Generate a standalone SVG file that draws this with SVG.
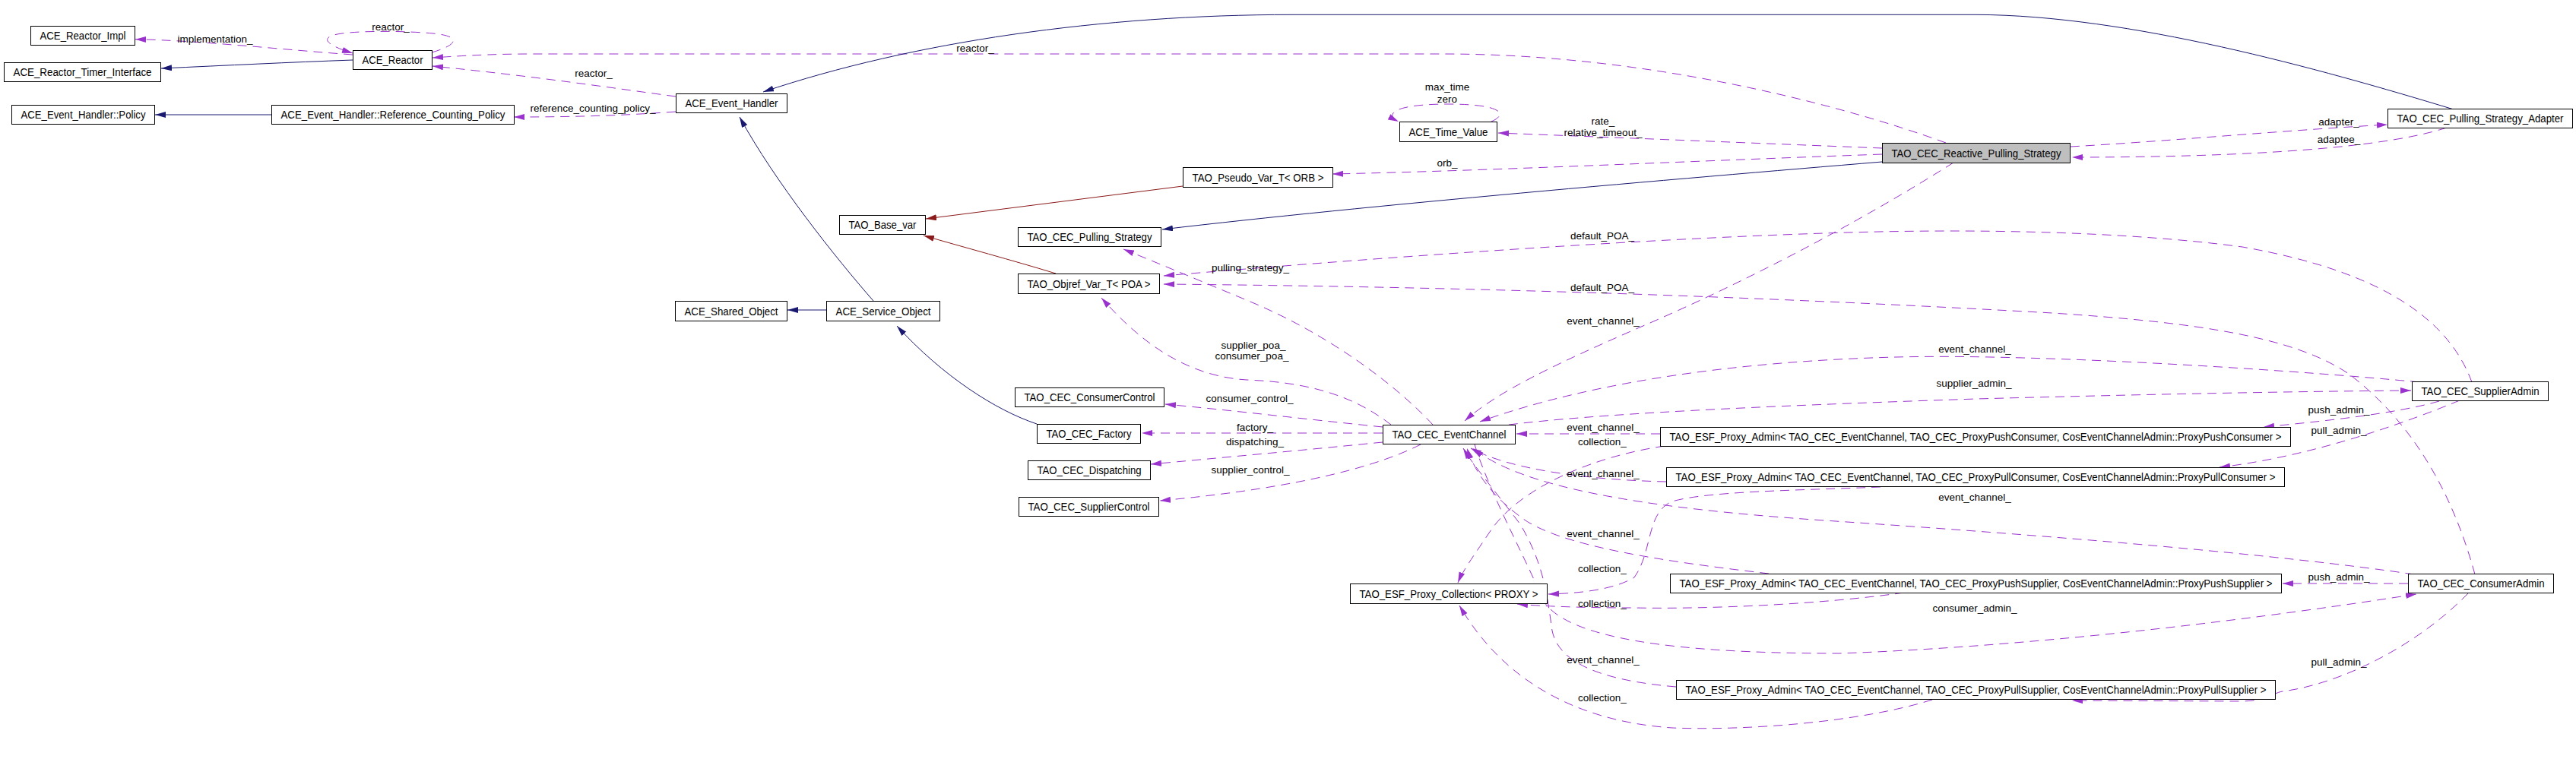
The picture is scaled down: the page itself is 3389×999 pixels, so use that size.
<svg xmlns="http://www.w3.org/2000/svg" width="3389" height="999" viewBox="0 0 3389 999">
<style>
text{font-family:"Liberation Sans",Arial,sans-serif;fill:#000}
.n rect{fill:#fff;stroke:#000;stroke-width:1}
.n text{font-size:14px;text-anchor:middle}
.hl rect{fill:#bfbfbf}
.e path{fill:none;stroke-width:1}
.u{stroke:#9a32cd;stroke-dasharray:12,8}
.i{stroke:#191970}
.t{stroke:#8b1a1a}
.u{marker-end:url(#ap)}
.i{marker-end:url(#an)}
.t{marker-end:url(#ar)}
.lb text{font-size:13.5px;text-anchor:middle}
</style>
<defs>
<marker id="ap" markerWidth="15" markerHeight="9" refX="14" refY="4" orient="auto" markerUnits="userSpaceOnUse"><path d="M0,0 L14,4 L0,8 z" fill="#9a32cd"/></marker>
<marker id="an" markerWidth="15" markerHeight="9" refX="14" refY="4" orient="auto" markerUnits="userSpaceOnUse"><path d="M0,0 L14,4 L0,8 z" fill="#191970"/></marker>
<marker id="ar" markerWidth="15" markerHeight="9" refX="14" refY="4" orient="auto" markerUnits="userSpaceOnUse"><path d="M0,0 L14,4 L0,8 z" fill="#8b1a1a"/></marker>
</defs>
<rect width="3389" height="999" fill="#fff"/>
<g id="connectors" class="e">
<path class="u" d="M464,72 C380,66 260,53 178,51.7"/>
<path class="i" d="M464,79 C380,82 300,86 212,90"/>
<path class="u" d="M568,69 C600,60 610,48 570,44 C540,41 480,40 450,44 C420,48 425,58 464,70"/>
<path class="u" d="M889,127 C800,115 700,100 569,87"/>
<path class="u" d="M2560,188 C2400,130 2150,71 1900,71 L700,71 C640,71 600,74 569,76"/>
<path class="u" d="M889,147 C820,152 760,154 676,154"/>
<path class="i" d="M357,151 L204,151"/>
<path class="i" d="M3228,144 C3050,90 2800,20 2600,19.3 L1700,19.3 C1450,19.3 1200,55 1004,121"/>
<path class="i" d="M1149,396 C1100,340 1020,240 973,154"/>
<path class="i" d="M1087,408 L1036,408"/>
<path class="i" d="M1364,558 C1310,540 1240,495 1180,429"/>
<path class="t" d="M1556,245 L1218,288"/>
<path class="t" d="M1389,360 C1330,342 1270,326 1215,310"/>
<path class="i" d="M2476,213 C2200,236 1800,270 1529,302"/>
<path class="u" d="M2476,195 C2300,188 2100,180 1971,175"/>
<path class="u" d="M1962,160 C1985,150 1975,137 1905,137 C1835,137 1820,150 1840,160"/>
<path class="u" d="M2476,203 C2200,213 1950,225 1753,229"/>
<path class="u" d="M2724,193 C2850,186 3000,172 3141,164"/>
<path class="u" d="M3219,168 C3120,200 2900,207 2726,207"/>
<path class="u" d="M2570,214 C2450,290 2300,370 2150,434 C2050,478 1970,515 1927,554"/>
<path class="u" d="M1885,559 C1840,510 1750,440 1640,395 C1580,370 1520,345 1478,328"/>
<path class="u" d="M3252,503 C3225,430 3150,360 2950,325 C2800,305 2600,300 2400,307 C2150,315 1800,340 1531,363"/>
<path class="u" d="M3256,756 C3230,660 3180,560 3090,492 C3020,445 2900,425 2700,412 C2400,395 2000,378 1531,374"/>
<path class="u" d="M1830,559 C1780,520 1720,503 1640,500 C1560,495 1500,450 1449,392"/>
<path class="u" d="M1819,562 C1720,552 1620,540 1533,532"/>
<path class="u" d="M1819,570 L1502,570"/>
<path class="u" d="M1819,582 C1720,592 1600,603 1514,611"/>
<path class="u" d="M1869,585 C1800,620 1680,645 1526,659"/>
<path class="u" d="M1985,559 C2100,545 2300,535 2600,525 C2900,517 3050,515 3172,514"/>
<path class="u" d="M3183,503 C3050,490 2700,465 2494,470 C2300,475 2100,500 1947,555"/>
<path class="u" d="M3176,756 C3000,730 2700,705 2400,685 C2150,668 2000,640 1938,590"/>
<path class="u" d="M2184,571 L1995,571"/>
<path class="u" d="M2190,587 C2100,600 2000,640 1960,700 C1940,730 1925,750 1918,767"/>
<path class="u" d="M2192,634 C2100,632 1990,620 1935,590"/>
<path class="u" d="M2494,640 C2400,645 2250,645 2200,660 C2165,675 2175,725 2150,760 C2120,778 2070,781 2037,782"/>
<path class="u" d="M2327,755 C2200,740 2050,720 2000,680 C1960,650 1940,620 1930,590"/>
<path class="u" d="M2505,780 C2400,795 2250,802 2150,800 C2080,800 2030,798 1996,795"/>
<path class="u" d="M2205,904 C2100,895 2050,870 2042,830 C2035,780 2030,740 2000,690 C1970,650 1940,615 1925,590"/>
<path class="u" d="M2542,921 C2450,950 2300,962 2200,958 C2080,950 1980,900 1920,797"/>
<path class="u" d="M3209,528 C3150,545 3050,555 2978,562"/>
<path class="u" d="M3236,527 C3180,550 3050,600 2920,615"/>
<path class="u" d="M3168,768 L3003,768"/>
<path class="u" d="M1940,585 C1960,650 2010,740 2030,790 C2060,840 2200,860 2420,860 C2700,850 3000,810 3179,782"/>
<path class="u" d="M3247,781 C3180,850 3080,900 3003,910 C2990,912 2985,922 2950,923 L2726,922"/>
</g>
<g id="edge-labels" class="lb">
<text x="283" y="56">implementation_</text>
<text x="514" y="40">reactor_</text>
<text x="781" y="101">reactor_</text>
<text x="780" y="147">reference_counting_policy_</text>
<text x="1283" y="68">reactor_</text>
<text x="1904" y="119">max_time</text>
<text x="1904" y="135">zero</text>
<text x="2109" y="164">rate_</text>
<text x="2109" y="179">relative_timeout_</text>
<text x="1904" y="219">orb_</text>
<text x="3077" y="165">adapter_</text>
<text x="3077" y="188">adaptee_</text>
<text x="2108" y="315">default_POA_</text>
<text x="1645" y="357">pulling_strategy_</text>
<text x="2108" y="383">default_POA_</text>
<text x="2109" y="427">event_channel_</text>
<text x="1649" y="459">supplier_poa_</text>
<text x="1647" y="473">consumer_poa_</text>
<text x="2598" y="464">event_channel_</text>
<text x="2597" y="509">supplier_admin_</text>
<text x="1644" y="529">consumer_control_</text>
<text x="1651" y="567">factory_</text>
<text x="1651" y="586">dispatching_</text>
<text x="1645" y="623">supplier_control_</text>
<text x="2109" y="567">event_channel_</text>
<text x="2108" y="586">collection_</text>
<text x="2109" y="628">event_channel_</text>
<text x="2598" y="659">event_channel_</text>
<text x="2109" y="707">event_channel_</text>
<text x="2108" y="753">collection_</text>
<text x="2108" y="799">collection_</text>
<text x="2598" y="805">consumer_admin_</text>
<text x="2109" y="873">event_channel_</text>
<text x="2108" y="923">collection_</text>
<text x="3077" y="544">push_admin_</text>
<text x="3077" y="571">pull_admin_</text>
<text x="3077" y="764">push_admin_</text>
<text x="3077" y="876">pull_admin_</text>
</g>
<g id="n1" class="n"><rect x="40.5" y="34.5" width="137" height="25"/><text x="109" y="52" textLength="113" lengthAdjust="spacingAndGlyphs">ACE_Reactor_Impl</text></g>
<g id="n2" class="n"><rect x="5.5" y="82.5" width="206" height="25"/><text x="108.5" y="100" textLength="182" lengthAdjust="spacingAndGlyphs">ACE_Reactor_Timer_Interface</text></g>
<g id="n3" class="n"><rect x="15.5" y="138.5" width="188" height="25"/><text x="109.5" y="156" textLength="164" lengthAdjust="spacingAndGlyphs">ACE_Event_Handler::Policy</text></g>
<g id="n4" class="n"><rect x="464.5" y="66.5" width="104" height="25"/><text x="516.5" y="84" textLength="80" lengthAdjust="spacingAndGlyphs">ACE_Reactor</text></g>
<g id="n5" class="n"><rect x="357.5" y="138.5" width="319" height="25"/><text x="517" y="156" textLength="295" lengthAdjust="spacingAndGlyphs">ACE_Event_Handler::Reference_Counting_Policy</text></g>
<g id="n6" class="n"><rect x="889.5" y="123.5" width="146" height="25"/><text x="962.5" y="141" textLength="122" lengthAdjust="spacingAndGlyphs">ACE_Event_Handler</text></g>
<g id="n7" class="n"><rect x="888.5" y="396.5" width="147" height="26"/><text x="962" y="414.5" textLength="123" lengthAdjust="spacingAndGlyphs">ACE_Shared_Object</text></g>
<g id="n8" class="n"><rect x="1087.5" y="396.5" width="149" height="26"/><text x="1162" y="414.5" textLength="125" lengthAdjust="spacingAndGlyphs">ACE_Service_Object</text></g>
<g id="n9" class="n"><rect x="1104.5" y="283.5" width="113" height="25"/><text x="1161" y="301" textLength="89" lengthAdjust="spacingAndGlyphs">TAO_Base_var</text></g>
<g id="n10" class="n"><rect x="1556.5" y="220.5" width="197" height="26"/><text x="1655" y="238.5" textLength="173" lengthAdjust="spacingAndGlyphs">TAO_Pseudo_Var_T&lt; ORB &gt;</text></g>
<g id="n11" class="n"><rect x="1339.5" y="299.5" width="188" height="25"/><text x="1433.5" y="317" textLength="164" lengthAdjust="spacingAndGlyphs">TAO_CEC_Pulling_Strategy</text></g>
<g id="n12" class="n"><rect x="1339.5" y="360.5" width="186" height="26"/><text x="1432.5" y="378.5" textLength="162" lengthAdjust="spacingAndGlyphs">TAO_Objref_Var_T&lt; POA &gt;</text></g>
<g id="n13" class="n"><rect x="1841.5" y="160.5" width="128" height="26"/><text x="1905.5" y="178.5" textLength="104" lengthAdjust="spacingAndGlyphs">ACE_Time_Value</text></g>
<g id="n14" class="n hl"><rect x="2476.5" y="188.5" width="247" height="26"/><text x="2600" y="206.5" textLength="223" lengthAdjust="spacingAndGlyphs">TAO_CEC_Reactive_Pulling_Strategy</text></g>
<g id="n15" class="n"><rect x="3141.5" y="143.5" width="243" height="25"/><text x="3263" y="161" textLength="219" lengthAdjust="spacingAndGlyphs">TAO_CEC_Pulling_Strategy_Adapter</text></g>
<g id="n16" class="n"><rect x="1335.5" y="510.5" width="196" height="25"/><text x="1433.5" y="528" textLength="172" lengthAdjust="spacingAndGlyphs">TAO_CEC_ConsumerControl</text></g>
<g id="n17" class="n"><rect x="1364.5" y="558.5" width="136" height="25"/><text x="1432.5" y="576" textLength="112" lengthAdjust="spacingAndGlyphs">TAO_CEC_Factory</text></g>
<g id="n18" class="n"><rect x="1352.5" y="606.5" width="161" height="25"/><text x="1433" y="624" textLength="137" lengthAdjust="spacingAndGlyphs">TAO_CEC_Dispatching</text></g>
<g id="n19" class="n"><rect x="1340.5" y="654.5" width="184" height="25"/><text x="1432.5" y="672" textLength="160" lengthAdjust="spacingAndGlyphs">TAO_CEC_SupplierControl</text></g>
<g id="n20" class="n"><rect x="1819.5" y="559.5" width="174" height="25"/><text x="1906.5" y="577" textLength="150" lengthAdjust="spacingAndGlyphs">TAO_CEC_EventChannel</text></g>
<g id="n21" class="n"><rect x="1776.5" y="768.5" width="259" height="26"/><text x="1906" y="786.5" textLength="235" lengthAdjust="spacingAndGlyphs">TAO_ESF_Proxy_Collection&lt; PROXY &gt;</text></g>
<g id="n22" class="n"><rect x="2184.5" y="562.5" width="829" height="25"/><text x="2599" y="580" textLength="805" lengthAdjust="spacingAndGlyphs">TAO_ESF_Proxy_Admin&lt; TAO_CEC_EventChannel, TAO_CEC_ProxyPushConsumer, CosEventChannelAdmin::ProxyPushConsumer &gt;</text></g>
<g id="n23" class="n"><rect x="2192.5" y="615.5" width="813" height="25"/><text x="2599" y="633" textLength="789" lengthAdjust="spacingAndGlyphs">TAO_ESF_Proxy_Admin&lt; TAO_CEC_EventChannel, TAO_CEC_ProxyPullConsumer, CosEventChannelAdmin::ProxyPullConsumer &gt;</text></g>
<g id="n24" class="n"><rect x="2197.5" y="755.5" width="804" height="25"/><text x="2599.5" y="773" textLength="780" lengthAdjust="spacingAndGlyphs">TAO_ESF_Proxy_Admin&lt; TAO_CEC_EventChannel, TAO_CEC_ProxyPushSupplier, CosEventChannelAdmin::ProxyPushSupplier &gt;</text></g>
<g id="n25" class="n"><rect x="2205.5" y="895.5" width="788" height="25"/><text x="2599.5" y="913" textLength="764" lengthAdjust="spacingAndGlyphs">TAO_ESF_Proxy_Admin&lt; TAO_CEC_EventChannel, TAO_CEC_ProxyPullSupplier, CosEventChannelAdmin::ProxyPullSupplier &gt;</text></g>
<g id="n26" class="n"><rect x="3173.5" y="502.5" width="179" height="25"/><text x="3263" y="520" textLength="155" lengthAdjust="spacingAndGlyphs">TAO_CEC_SupplierAdmin</text></g>
<g id="n27" class="n"><rect x="3168.5" y="755.5" width="191" height="25"/><text x="3264" y="773" textLength="167" lengthAdjust="spacingAndGlyphs">TAO_CEC_ConsumerAdmin</text></g>
</svg>
